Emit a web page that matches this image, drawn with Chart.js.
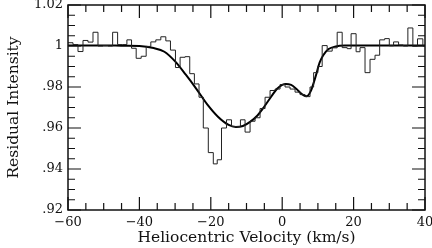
<!DOCTYPE html>
<html>
<head>
<meta charset="utf-8">
<script src="https://cdn.jsdelivr.net/npm/chart.js@4.4.0/dist/chart.umd.min.js"></script>
<style>
  html, body { margin: 0; padding: 0; background: #fff; }
  #wrap { width: 432px; height: 248px; }
</style>
</head>
<body>
<div id="wrap"><canvas id="chart" width="432" height="248"></canvas></div>
<script>
// Binned spectrum: left edge of each bin (km/s) and its residual intensity
const binVelocity = [
  -60.0, -58.6, -57.2, -55.8, -54.4, -53.0, -51.6, -50.2, -48.8, -47.5,
  -46.1, -44.8, -43.5, -42.2, -40.9, -39.5, -38.1, -36.8, -35.4, -34.0,
  -32.6, -31.3, -29.9, -28.6, -27.2, -25.9, -24.6, -23.3, -22.1, -20.7,
  -19.3, -18.2, -17.0, -15.6, -14.2, -12.9, -11.7, -10.4, -9.0, -7.6,
  -6.2, -4.8, -3.4, -2.0, -0.6, 0.8, 2.2, 3.6, 5.0, 6.4,
  7.8, 8.8, 10.0, 11.2, 12.6, 14.0, 15.4, 16.8, 18.2, 19.3,
  20.7, 21.8, 23.2, 24.6, 26.0, 27.3, 28.7, 30.0, 31.2, 32.6,
  33.9, 35.2, 36.6, 37.9, 39.4, 40.0
];
const binIntensity = [
  1.0016, 1.0007, 0.9973, 1.0027, 1.0019, 1.0067, 1.0000, 1.0002, 1.0000, 1.0067,
  1.0007, 1.0007, 1.0030, 0.9989, 0.9940, 0.9950, 0.9998, 1.0020, 1.0030, 1.0045,
  1.0025, 0.9980, 0.9895, 0.9945, 0.9948, 0.9865, 0.9815, 0.9750, 0.9600, 0.9480,
  0.9425, 0.9445, 0.9600, 0.9640, 0.9607, 0.9607, 0.9640, 0.9580, 0.9633, 0.9650,
  0.9695, 0.9750, 0.9783, 0.9790, 0.9812, 0.9800, 0.9790, 0.9775, 0.9763, 0.9753,
  0.9800, 0.9870, 0.9900, 1.0002, 0.9975, 0.9991, 1.0067, 0.9992, 0.9987, 1.0060,
  0.9972, 0.9992, 0.9870, 0.9935, 0.9955, 1.0030, 1.0036, 1.0001, 1.0020, 1.0005,
  1.0000, 1.0088, 1.0000, 1.0035, 1.0000, 1.0000
];

// Smooth model fit
const fitVelocity = [
  -60, -50, -44, -40, -36, -33, -30, -27, -24, -21, -18, -15, -13, -11, -9, -7,
  -5, -3, -1.5, 0, 1, 2.5, 4, 5.5, 6.8, 8, 9.3, 10.5, 11.5, 13, 15, 18, 25, 40
];
const fitIntensity = [
  1.0003, 1.0003, 1.0001, 1.0000, 0.9990, 0.9972, 0.9925, 0.9860, 0.9790, 0.9715,
  0.9655, 0.9615, 0.9605, 0.9610, 0.9630, 0.9660, 0.9705, 0.9755, 0.9790, 0.9810,
  0.9815, 0.9810, 0.9790, 0.9765, 0.9755, 0.9780, 0.9848, 0.9920, 0.9955, 0.9985,
  0.9998, 1.0002, 1.0003, 1.0003
];

const xTicks = [-60, -40, -20, 0, 20, 40];
const xTickLabels = ['\u221260', '\u221240', '\u221220', '0', '20', '40'];
const yTicks = [0.92, 0.94, 0.96, 0.98, 1.00, 1.02];
const yTickLabels = ['.92', '.94', '.96', '.98', '1', '1.02'];

const serif = "'DejaVu Serif', serif";

// frame with inward major/minor ticks on all four sides
const frameTicks = {
  id: 'frameTicks',
  afterDraw(chart) {
    const { ctx, chartArea: a, scales: { x, y } } = chart;
    ctx.save();
    ctx.strokeStyle = '#111';
    ctx.lineWidth = 1.5;
    ctx.strokeRect(a.left, a.top, a.right - a.left, a.bottom - a.top);
    ctx.lineWidth = 1.2;
    ctx.beginPath();
    for (let v = -60; v <= 40; v += 5) {
      const px = x.getPixelForValue(v);
      const len = v % 20 === 0 ? 13 : 7;
      ctx.moveTo(px, a.bottom); ctx.lineTo(px, a.bottom - len);
      ctx.moveTo(px, a.top); ctx.lineTo(px, a.top + len);
    }
    for (let i = 0; i <= 20; i++) {
      const py = y.getPixelForValue(0.92 + i * 0.005);
      const len = i % 4 === 0 ? 13 : 7;
      ctx.moveTo(a.left, py); ctx.lineTo(a.left + len, py);
      ctx.moveTo(a.right, py); ctx.lineTo(a.right - len, py);
    }
    ctx.stroke();
    ctx.restore();
  }
};

new Chart(document.getElementById('chart'), {
  type: 'line',
  data: {
    datasets: [
      {
        label: 'Spectrum',
        data: binVelocity.map((v, i) => ({ x: v, y: binIntensity[i] })),
        stepped: true,
        borderColor: '#222',
        borderWidth: 1,
        pointRadius: 0,
        fill: false
      },
      {
        label: 'Fit',
        data: fitVelocity.map((v, i) => ({ x: v, y: fitIntensity[i] })),
        cubicInterpolationMode: 'monotone',
        borderColor: '#000',
        borderWidth: 2,
        pointRadius: 0,
        fill: false
      }
    ]
  },
  options: {
    responsive: false,
    animation: false,
    devicePixelRatio: 1,
    layout: { padding: { top: 5, right: 7, left: 0, bottom: 0 } },
    plugins: {
      legend: { display: false },
      tooltip: { enabled: false }
    },
    scales: {
      x: {
        type: 'linear',
        min: -60,
        max: 40,
        afterBuildTicks: s => { s.ticks = xTicks.map(v => ({ value: v })); },
        afterFit: s => { s.height = 38; s.paddingLeft = 0; s.paddingRight = 0; },
        ticks: {
          color: '#111',
          font: { family: serif, size: 13 },
          padding: 5,
          maxRotation: 0,
          autoSkip: false,
          callback: v => xTickLabels[xTicks.indexOf(v)]
        },
        grid: { display: false, drawTicks: false },
        border: { display: false },
        title: {
          display: true,
          text: 'Heliocentric Velocity (km/s)',
          color: '#111',
          font: { family: serif, size: 15.5 },
          padding: { top: 0, bottom: 1 }
        }
      },
      y: {
        type: 'linear',
        min: 0.92,
        max: 1.02,
        afterBuildTicks: s => { s.ticks = yTicks.map(v => ({ value: v })); },
        afterFit: s => { s.width = 68; s.paddingTop = 0; s.paddingBottom = 0; },
        ticks: {
          color: '#111',
          font: { family: serif, size: 13 },
          padding: 5,
          autoSkip: false,
          callback: v => yTickLabels[yTicks.findIndex(t => Math.abs(t - v) < 1e-6)]
        },
        grid: { display: false, drawTicks: false },
        border: { display: false },
        title: {
          display: true,
          text: 'Residual Intensity',
          color: '#111',
          font: { family: serif, size: 15.5 },
          padding: { top: 5, bottom: 0 }
        }
      }
    }
  },
  plugins: [frameTicks]
});
</script>
</body>
</html>
